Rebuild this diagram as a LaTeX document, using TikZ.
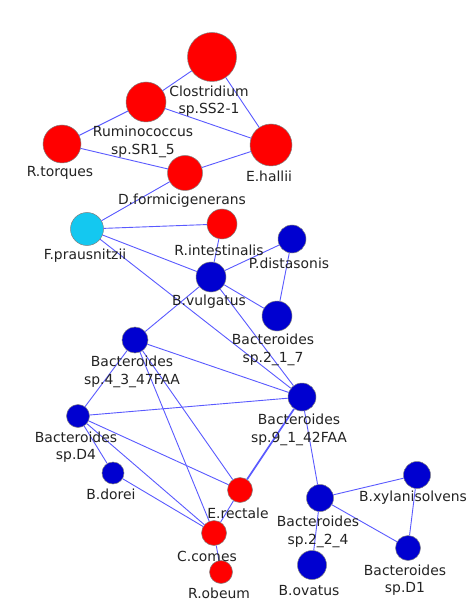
\documentclass[tikz,border=0pt]{standalone}
\usepackage{fontspec}
\setmainfont{DejaVu Sans}
\definecolor{zred}{RGB}{255,0,0}
\definecolor{zblue}{RGB}{0,0,208}
\definecolor{zcyan}{RGB}{20,200,240}
\definecolor{zedge}{RGB}{90,90,255}
\definecolor{ztext}{RGB}{35,35,35}

\begin{document}
\begin{tikzpicture}[x=1pt, y=-1pt, zsp/.style={circle, inner sep=0, draw=black!50, line width=.5pt, minimum size=#1pt}, zlink/.style={draw=zedge, line width=.9pt}, zname/.style={font=\fontsize{13.9}{17.5}\selectfont, text=ztext, align=center, inner sep=0}]
\useasboundingbox[fill=white] (0,0) rectangle (468,601);
\foreach \n/\x/\y/\d/\c in {clos/212/57/49/zred, rumi/146/102/40/zred, rtor/62/144/38/zred, ehal/271/145/42/zred, dfor/185/173/35/zred, fpra/87/229/33/zcyan, rint/222/224/30/zred, pdis/292/239/28/zblue, bvul/211/277/30/zblue, b217/277/316/30/zblue, b4347/135/340/26/zblue, b9142/302/397/28/zblue, bd4/78/416/23/zblue, bdor/113/473/22/zblue, erec/240/490/25/zred, ccom/214/533/25/zred, robe/221/572/23/zred, b224/320/498/27/zblue, bxyl/417/475/27/zblue, bd1/408/548/25/zblue, bova/312/565/29/zblue}{\node[zsp=\d, fill=\c] (\n) at (\x,\y) {};}
\foreach \a/\b in {clos/rumi, clos/ehal, rumi/ehal, rumi/rtor, rtor/dfor, dfor/ehal, dfor/fpra, fpra/rint, fpra/bvul, fpra/b9142, rint/bvul, bvul/pdis, pdis/b217, bvul/b217, bvul/b4347, bvul/b9142, b4347/b9142, b4347/bd4, b4347/ccom, b4347/erec, bd4/b9142, bd4/bdor, bd4/erec, bd4/ccom, bdor/ccom, erec/ccom, ccom/robe, b9142/b224, b224/bxyl, b224/bd1, b224/bova, bxyl/bd1}{\draw[zlink] (\a) -- (\b);}
\draw[zlink, line width=1.7pt] (b9142) -- (erec);
\foreach \n/\x/\y/\t in {clos/209/101/{Clostridium\\sp.SS2-1}, rumi/143/142/{Ruminococcus\\sp.SR1\_5}, rtor/60/173/{R.torques}, ehal/269/176/{E.hallii}, dfor/182/201/{D.formicigenerans}, fpra/85/256/{F.prausnitzii}, rint/219/250/{R.intestinalis}, pdis/289/263/{P.distasonis}, bvul/209/302/{B.vulgatus}, b217/273/350/{Bacteroides\\sp.2\_1\_7}, b4347/132/372/{Bacteroides\\sp.4\_3\_47FAA}, b9142/299/430/{Bacteroides\\sp.9\_1\_42FAA}, bd4/76/447/{Bacteroides\\sp.D4}, bdor/111/494/{B.dorei}, erec/238/513/{E.rectale}, ccom/207/556/{C.comes}, robe/219/593/{R.obeum}, b224/318/532/{Bacteroides\\sp.2\_2\_4}, bxyl/413/498/{B.xylanisolvens}, bd1/405/580/{Bacteroides\\sp.D1}, bova/309/591/{B.ovatus}}{\node[zname] (\n-t) at (\x,\y) {\t};}
\end{tikzpicture}
\end{document}
